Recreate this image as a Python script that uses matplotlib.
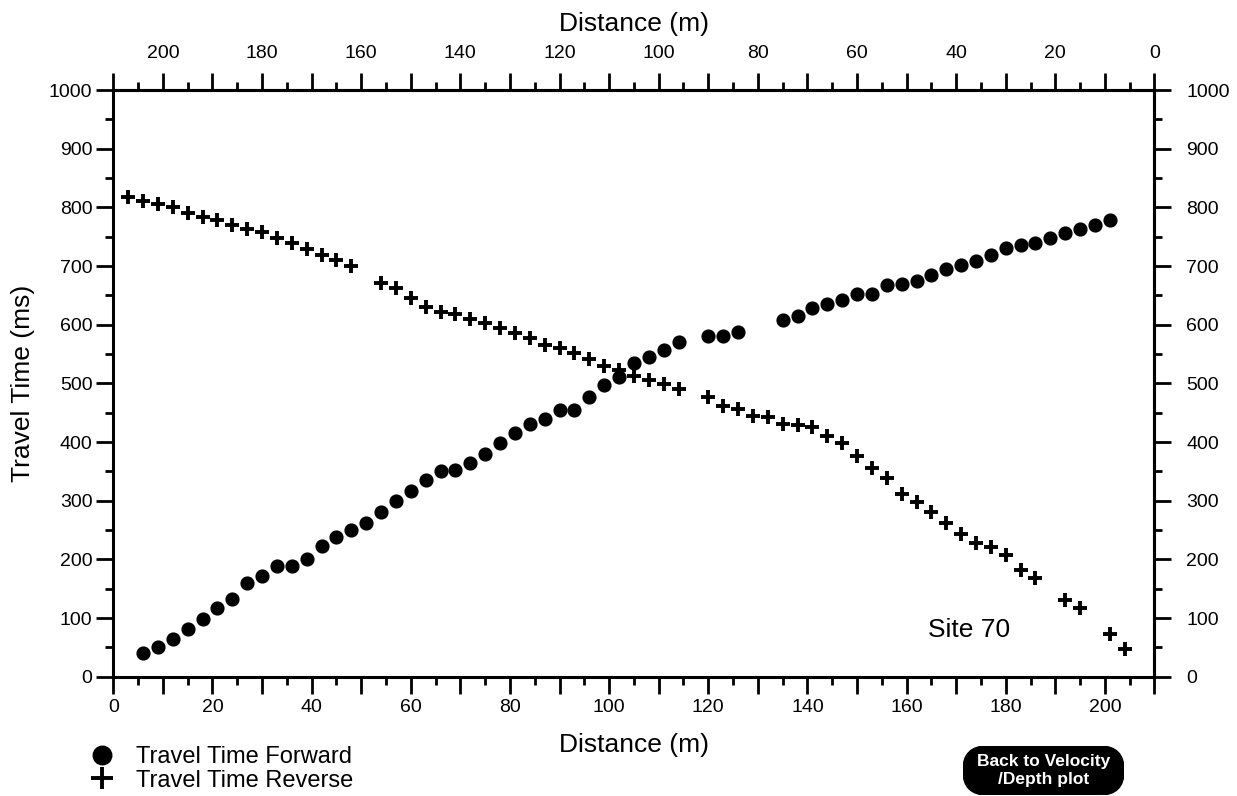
import matplotlib
matplotlib.use("Agg")
import matplotlib.pyplot as plt
from matplotlib.ticker import MultipleLocator, FuncFormatter
from matplotlib.patches import FancyBboxPatch

plt.rcParams['font.family'] = ['Liberation Sans', 'DejaVu Sans']

# forward shots (circles)
fwd_x = [6, 9, 12, 15, 18, 21, 24, 27, 30, 33, 36, 39, 42, 45, 48, 51, 54, 57,
         60, 63, 66, 69, 72, 75, 78, 81, 84, 87, 90, 93, 96, 99, 102, 105, 108,
         111, 114, 120, 123, 126, 135, 138, 141, 144, 147, 150, 153, 156, 159,
         162, 165, 168, 171, 174, 177, 180, 183, 186, 189, 192, 195, 198, 201]
fwd_t = [40, 50, 64, 81, 99, 117, 132, 159, 172, 189, 189, 201, 223, 238, 250,
         262, 281, 300, 317, 335, 351, 352, 365, 380, 399, 415, 430, 440, 455,
         455, 476, 498, 511, 534, 545, 557, 571, 580, 581, 588, 608, 615, 629,
         635, 642, 653, 653, 668, 669, 675, 684, 695, 701, 709, 719, 730, 736,
         739, 747, 756, 763, 770, 778]

# reverse shots (plus)
rev_x = [3, 6, 9, 12, 15, 18, 21, 24, 27, 30, 33, 36, 39, 42, 45, 48, 54, 57,
         60, 63, 66, 69, 72, 75, 78, 81, 84, 87, 90, 93, 96, 99, 102, 105, 108,
         111, 114, 120, 123, 126, 129, 132, 135, 138, 141, 144, 147, 150, 153,
         156, 159, 162, 165, 168, 171, 174, 177, 180, 183, 186, 192, 195, 201, 204]
rev_t = [817, 811, 806, 800, 790, 783, 778, 770, 763, 758, 748, 739, 729, 719,
         710, 700, 671, 662, 646, 631, 622, 619, 609, 603, 594, 585, 577, 565,
         560, 551, 541, 530, 522, 513, 506, 499, 490, 476, 462, 456, 444, 443,
         431, 429, 425, 410, 398, 377, 355, 338, 311, 297, 280, 262, 243, 228,
         221, 207, 182, 168, 131, 117, 73, 47]

x_max = 210
site_label = "Site 70"


def every_20(v, pos):
    v = int(round(v))
    return str(v) if v % 20 == 0 else ""


fig = plt.figure(figsize=(12.37, 7.96), dpi=100)
ax = fig.add_axes([0.0916, 0.1499, 0.8417, 0.737])

fwd_line, = ax.plot(fwd_x, fwd_t, 'o', color='black', markersize=9.2,
                    linestyle='none', label='Travel Time Forward')
rev_line, = ax.plot(rev_x, rev_t, '+', color='black', markersize=10.5,
                    markeredgewidth=2.8, linestyle='none', label='Travel Time Reverse')

ax.set_xlim(0, x_max)
ax.set_ylim(0, 1000)

for s in ax.spines.values():
    s.set_linewidth(2.2)

ax.xaxis.set_major_locator(MultipleLocator(10))
ax.xaxis.set_minor_locator(MultipleLocator(5))
ax.xaxis.set_major_formatter(FuncFormatter(every_20))
ax.yaxis.set_major_locator(MultipleLocator(100))
ax.yaxis.set_minor_locator(MultipleLocator(50))
ax.tick_params(axis='both', which='major', direction='out', length=12, width=2,
               labelsize=14)
ax.tick_params(axis='both', which='minor', direction='out', length=6, width=2)
ax.tick_params(axis='x', which='major', pad=4)
ax.tick_params(axis='y', which='major', pad=3)

ax.set_xlabel('Distance (m)', fontsize=19, labelpad=12)
ax.set_ylabel('Travel Time (ms)', fontsize=19, labelpad=10)

# top axis runs the other way
top = ax.secondary_xaxis('top', functions=(lambda x: x_max - x, lambda x: x_max - x))
top.xaxis.set_major_locator(MultipleLocator(10))
top.xaxis.set_minor_locator(MultipleLocator(5))
top.xaxis.set_major_formatter(FuncFormatter(every_20))
top.tick_params(which='major', direction='out', length=12, width=2, labelsize=14, pad=8)
top.tick_params(which='minor', direction='out', length=6, width=2)
top.spines['top'].set_linewidth(2.2)
top.set_xlabel('Distance (m)', fontsize=19, labelpad=10)

right = ax.secondary_yaxis('right')
right.yaxis.set_major_locator(MultipleLocator(100))
right.yaxis.set_minor_locator(MultipleLocator(50))
right.tick_params(which='major', direction='out', length=12, width=2, labelsize=14, pad=11)
right.tick_params(which='minor', direction='out', length=6, width=2)
right.spines['right'].set_linewidth(2.2)

ax.text(164.3, 80, site_label, fontsize=19, ha='left', va='center')

fig.legend(handles=[fwd_line, rev_line], loc='center left',
           bbox_to_anchor=(89 / 1237, 1 - 769 / 796), frameon=False,
           fontsize=17, handlelength=1.1, handletextpad=0.9, markerscale=1.45,
           labelspacing=0.05, borderpad=0, borderaxespad=0)

# "Back to Velocity /Depth plot" button
bax = fig.add_axes([963 / 1237, 1 / 796, 161 / 1237, 49 / 796])
bax.set_xlim(0, 161)
bax.set_ylim(0, 49)
bax.axis('off')
bax.add_patch(FancyBboxPatch((0, 0), 161, 49, boxstyle="round,pad=0,rounding_size=24",
                             facecolor='black', edgecolor='black'))
bax.text(80.5, 24.5, 'Back to Velocity\n/Depth plot', color='white', fontsize=12.5,
         fontweight='bold', ha='center', va='center', linespacing=1.2)

fig.savefig('out.png', dpi=100)
